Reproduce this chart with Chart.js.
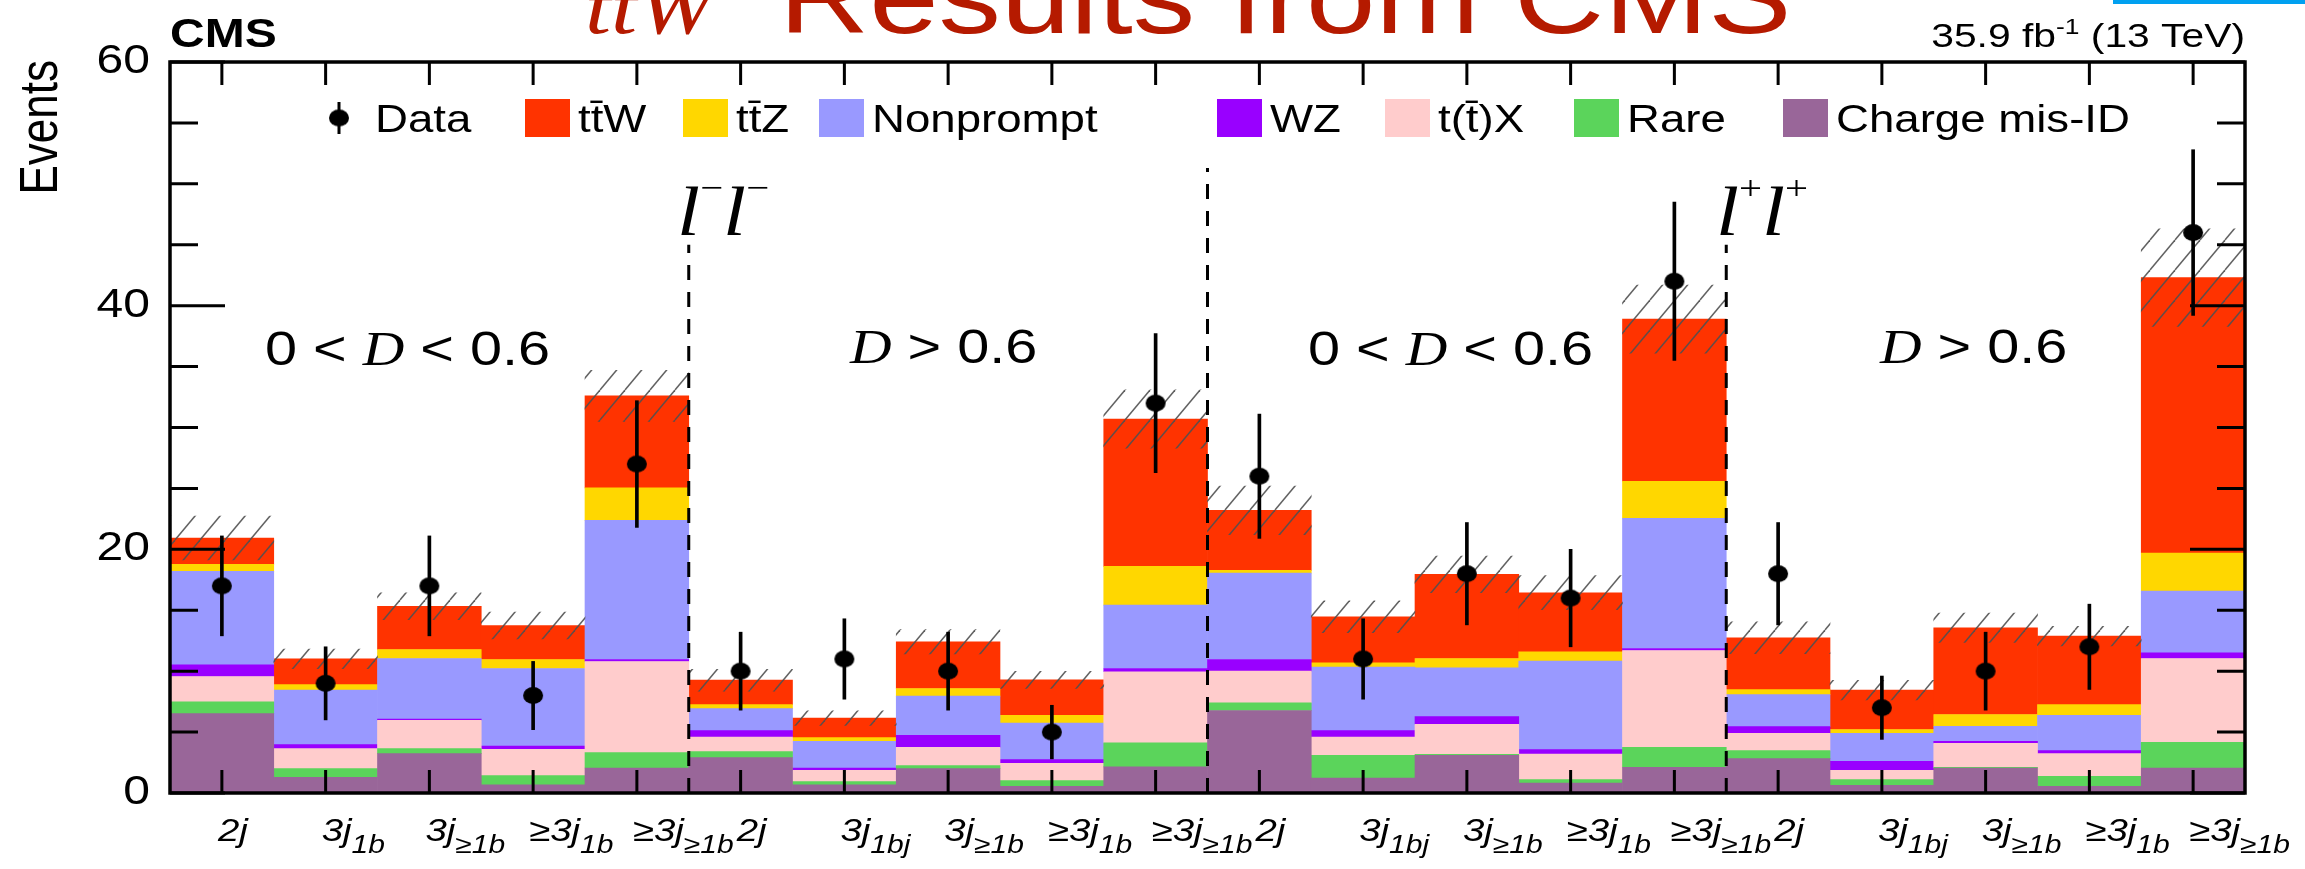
<!DOCTYPE html>
<html>
<head>
<meta charset="utf-8">
<script src="https://cdn.jsdelivr.net/npm/chart.js@4.4.1/dist/chart.umd.min.js"></script>
<style>
  html, body { margin: 0; padding: 0; background: #fff; overflow: hidden; }
  #wrap { position: relative; width: 2305px; height: 869px; }
</style>
</head>
<body>
<div id="wrap"><canvas id="c"></canvas></div>
<script>
// ---- bin labels (main part + subscript) ----
const tickMain = ['2j','3j','3j','≥3j','≥3j', '2j','3j','3j','≥3j','≥3j',
                  '2j','3j','3j','≥3j','≥3j', '2j','3j','3j','≥3j','≥3j'];
const tickSub  = ['','1b','≥1b','1b','≥1b', '','1bj','≥1b','1b','≥1b',
                  '','1bj','≥1b','1b','≥1b', '','1bj','≥1b','1b','≥1b'];
const categories = tickMain.map((m, i) => m + tickSub[i]);

// ---- expected yields per process (stacked bottom to top) ----
const chargeMisID = [6.52,1.29,3.23,0.68,2.05, 2.90,0.68,2.00,0.55,2.14, 6.77,1.23,3.10,0.82,2.11, 2.82,0.63,2.05,0.55,2.05];
const rare        = [0.96,0.71,0.41,0.74,1.27, 0.50,0.25,0.25,0.46,1.97, 0.63,1.87,0.08,0.28,1.64, 0.66,0.47,0.05,0.82,2.11];
const ttX         = [2.08,1.64,2.33,2.17,7.47, 1.18,0.93,1.50,1.43,5.84, 2.60,1.48,2.46,2.10,7.95, 1.42,0.76,1.98,1.86,6.88];
const wz          = [0.96,0.33,0.10,0.27,0.17, 0.54,0.19,0.99,0.30,0.27, 0.96,0.54,0.63,0.36,0.16, 0.55,0.74,0.17,0.25,0.47];
const nonprompt   = [7.67,4.47,4.97,6.36,11.42, 1.81,2.20,3.21,2.99,5.20, 7.09,5.21,4.00,7.26,10.69, 2.63,2.30,1.23,2.90,5.07];
const ttZ         = [0.58,0.46,0.74,0.74,2.66, 0.33,0.30,0.63,0.65,3.18, 0.22,0.35,0.77,0.77,3.04, 0.41,0.31,0.96,0.88,3.12];
const ttW         = [2.16,2.11,3.54,2.79,7.56, 2.00,1.59,3.83,2.91,12.10, 4.93,3.79,6.91,4.85,13.31, 4.25,3.23,7.12,5.62,22.60];

// total background uncertainty (hatched band, symmetric)
const bkgUnc = [1.8,0.8,1.1,1.1,2.1, 0.9,0.6,1.0,0.7,2.4, 2.0,1.3,1.5,1.4,2.8, 1.3,0.8,1.2,0.8,4.0];

// ---- observed data ----
const dataCounts = [17,9,17,8,27, 10,11,10,5,32, 26,11,18,16,42, 18,7,10,12,46];
const dataErr    = [4.1,3.0,4.1,2.8,5.2, 3.2,3.3,3.2,2.2,5.7, 5.1,3.3,4.2,4.0,6.5, 4.2,2.6,3.2,3.5,6.8];

// ---- y axis ticks, region dividers ----
const yTickLabels = [0, 20, 40, 60];
const dividerAfter = [5, 10, 15];
const dividerTop   = [45, 51.3, 45];

const SX = 1.2; // horizontal text stretch of the figure
const SANS = "'Liberation Sans', Arial, Helvetica, sans-serif";
const SERIF = "'Liberation Serif', 'Times New Roman', serif";

const colors = {
  ttW: '#ff3300', ttZ: '#ffd700', nonprompt: '#9999ff', wz: '#9900ff',
  ttX: '#ffcccc', rare: '#5bd45b', misid: '#996699'
};

// hatch pattern for the uncertainty band
function makeHatch() {
  const w = 25, h = 30;
  const c = document.createElement('canvas');
  c.width = w; c.height = h;
  const g = c.getContext('2d');
  g.strokeStyle = 'rgba(80,80,80,0.9)';
  g.lineWidth = 1.5;
  for (const off of [-w, 0, w]) {
    g.beginPath();
    g.moveTo(off, h);
    g.lineTo(off + w, 0);
    g.stroke();
  }
  return g.createPattern(c, 'repeat');
}

// data marker (slightly wide ellipse)
function makeDot(rx, ry) {
  const c = document.createElement('canvas');
  c.width = Math.ceil(rx * 2 + 2); c.height = Math.ceil(ry * 2 + 2);
  const g = c.getContext('2d');
  g.fillStyle = '#000';
  g.beginPath();
  g.ellipse(c.width / 2, c.height / 2, rx, ry, 0, 0, Math.PI * 2);
  g.fill();
  return c;
}
const dot = makeDot(10, 8.5);

const totals = categories.map((_, i) =>
  chargeMisID[i] + rare[i] + ttX[i] + wz[i] + nonprompt[i] + ttZ[i] + ttW[i]);

// draws a sequence of text runs horizontally stretched by SX
function drawRuns(ctx, x, y, parts, align) {
  let w = 0;
  parts.forEach(p => { ctx.font = p.font; p.w = ctx.measureText(p.t).width * SX; w += p.w; });
  let cx = align === 'right' ? x - w : (align === 'center' ? x - w / 2 : x);
  parts.forEach(p => {
    ctx.save();
    ctx.font = p.font;
    ctx.fillStyle = p.color || '#000';
    ctx.textAlign = 'left';
    ctx.textBaseline = p.baseline || 'alphabetic';
    ctx.translate(cx, y + (p.dy || 0));
    ctx.scale(SX, 1);
    ctx.fillText(p.t, 0, 0);
    ctx.restore();
    cx += p.w;
  });
}

const decorations = {
  id: 'decorations',
  afterDatasetsDraw(chart) {
    const ctx = chart.ctx;
    const xs = chart.scales.x, ys = chart.scales.y;
    const a = chart.chartArea;
    const half = (xs.getPixelForValue(1) - xs.getPixelForValue(0)) / 2;
    ctx.save();
    // region dividers
    ctx.strokeStyle = '#000';
    ctx.lineWidth = 3;
    ctx.setLineDash([15, 12]);
    dividerAfter.forEach((b, k) => {
      const x = xs.getPixelForValue(b - 1) + half;
      ctx.beginPath();
      ctx.moveTo(x, ys.getPixelForValue(0));
      ctx.lineTo(x, ys.getPixelForValue(dividerTop[k]));
      ctx.stroke();
    });
    ctx.setLineDash([]);
    // tick marks
    ctx.lineWidth = 3;
    for (let i = 0; i < categories.length; i++) {
      const x = xs.getPixelForValue(i);
      ctx.beginPath();
      ctx.moveTo(x, a.bottom); ctx.lineTo(x, a.bottom - 23);
      ctx.moveTo(x, a.top); ctx.lineTo(x, a.top + 23);
      ctx.stroke();
    }
    for (let v = 0; v <= 60; v += 5) {
      const y = ys.getPixelForValue(v);
      const len = v % 20 === 0 ? 55 : 28;
      ctx.beginPath();
      ctx.moveTo(a.left, y); ctx.lineTo(a.left + len, y);
      ctx.moveTo(a.right, y); ctx.lineTo(a.right - len, y);
      ctx.stroke();
    }
    // frame
    ctx.lineWidth = 3.5;
    ctx.strokeRect(a.left, a.top, a.right - a.left, a.bottom - a.top);
    ctx.restore();
  },
  afterDraw(chart) {
    const ctx = chart.ctx;
    const xs = chart.scales.x, ys = chart.scales.y;
    const a = chart.chartArea;
    ctx.save();

    // heading
    drawRuns(ctx, 585, 33, [{ t: 'ttW', font: 'italic 78px ' + SERIF, color: '#b51a00' }]);
    drawRuns(ctx, 779, 33, [{ t: 'Results from CMS', font: '104px ' + SANS, color: '#b51a00' }]);
    ctx.fillStyle = '#00a0f0';
    ctx.fillRect(2113, 0, 192, 4);

    // CMS label and luminosity
    drawRuns(ctx, a.left, 47, [{ t: 'CMS', font: 'bold 40px ' + SANS }]);
    drawRuns(ctx, a.right, 47, [
      { t: '35.9 fb', font: '34px ' + SANS },
      { t: '-1', font: '22px ' + SANS, dy: -13 },
      { t: ' (13 TeV)', font: '34px ' + SANS }
    ], 'right');

    // y axis labels and title
    yTickLabels.forEach(v => {
      drawRuns(ctx, 150, ys.getPixelForValue(v), [{ t: String(v), font: '40px ' + SANS, baseline: 'middle' }], 'right');
    });
    ctx.save();
    ctx.translate(57, 60);
    ctx.rotate(-Math.PI / 2);
    ctx.scale(1, SX);
    ctx.font = '44px ' + SANS;
    ctx.fillStyle = '#000';
    ctx.textAlign = 'right';
    ctx.textBaseline = 'alphabetic';
    ctx.fillText('Events', 0, 0);
    ctx.restore();

    // bin labels
    for (let i = 0; i < categories.length; i++) {
      const x = xs.getPixelForValue(i) - 4;
      const parts = [{ t: tickMain[i], font: 'italic 32px ' + SANS }];
      if (tickSub[i]) parts.push({ t: tickSub[i], font: 'italic 25px ' + SANS, dy: 12 });
      drawRuns(ctx, x, 841, parts);
    }

    // legend
    const ly = 118;
    ctx.drawImage(dot, 339 - dot.width / 2, ly - dot.height / 2);
    ctx.fillStyle = '#000';
    ctx.fillRect(337.5, 102, 3, 32);
    drawRuns(ctx, 375, 131.5, [{ t: 'Data', font: '38px ' + SANS }]);
    const legendX = [525, 683, 819, 1217, 1385, 1574, 1783];
    const legendLabels = ['tt\u0304W', 'tt\u0304Z', 'Nonprompt', 'WZ', 't(t\u0304)X', 'Rare', 'Charge mis-ID'];
    legendLabels.forEach((name, k) => {
      const ds = chart.data.datasets.find(d => d.label === name);
      ctx.fillStyle = ds.backgroundColor;
      ctx.fillRect(legendX[k], 99, 45, 38);
      drawRuns(ctx, legendX[k] + 53, 131.5, [{ t: name, font: '38px ' + SANS }]);
    });

    // region labels
    const lbl = 48;
    const lessThan = (x) => drawRuns(ctx, x, 365, [
      { t: '0 < ', font: lbl + 'px ' + SANS },
      { t: 'D', font: 'italic ' + lbl + 'px ' + SERIF },
      { t: ' < 0.6', font: lbl + 'px ' + SANS }
    ]);
    const greater = (x) => drawRuns(ctx, x, 363, [
      { t: 'D', font: 'italic ' + lbl + 'px ' + SERIF },
      { t: ' > 0.6', font: lbl + 'px ' + SANS }
    ]);
    lessThan(265); greater(850); lessThan(1308); greater(1880);
    const lep = (x, s) => drawRuns(ctx, x, 235, [
      { t: 'l', font: 'italic 69px ' + SERIF },
      { t: s, font: '34px ' + SERIF, dy: -36 },
      { t: 'l', font: 'italic 69px ' + SERIF },
      { t: s, font: '34px ' + SERIF, dy: -36 }
    ]);
    lep(677, '\u2212'); lep(1716, '+');
    ctx.restore();
  }
};

const hatch = makeHatch();
const stackDefaults = { stack: 'mc', yAxisID: 'y', barPercentage: 1, categoryPercentage: 1, borderWidth: 0 };

new Chart(document.getElementById('c'), {
  type: 'bar',
  data: {
    labels: categories,
    datasets: [
      { type: 'line', label: 'Data', data: dataCounts, yAxisID: 'y2', showLine: false,
        pointStyle: dot, pointRadius: 10, pointHoverRadius: 10, order: 0 },
      { label: 'Data error', data: dataCounts.map((d, i) => [d - dataErr[i], d + dataErr[i]]),
        yAxisID: 'y2', grouped: false, barThickness: 3, backgroundColor: '#000', borderWidth: 0, order: 1 },
      { ...stackDefaults, label: 'Charge mis-ID', data: chargeMisID, backgroundColor: colors.misid, order: 3 },
      { ...stackDefaults, label: 'Rare', data: rare, backgroundColor: colors.rare, order: 3 },
      { ...stackDefaults, label: 't(t\u0304)X', data: ttX, backgroundColor: colors.ttX, order: 3 },
      { ...stackDefaults, label: 'WZ', data: wz, backgroundColor: colors.wz, order: 3 },
      { ...stackDefaults, label: 'Nonprompt', data: nonprompt, backgroundColor: colors.nonprompt, order: 3 },
      { ...stackDefaults, label: 'tt\u0304Z', data: ttZ, backgroundColor: colors.ttZ, order: 3 },
      { ...stackDefaults, label: 'tt\u0304W', data: ttW, backgroundColor: colors.ttW, order: 3 },
      { label: 'Uncertainty', data: totals.map((t, i) => [t - bkgUnc[i], t + bkgUnc[i]]),
        yAxisID: 'y2', grouped: false, barPercentage: 1, categoryPercentage: 1,
        backgroundColor: hatch, borderWidth: 0, order: 2 }
    ]
  },
  options: {
    responsive: true,
    maintainAspectRatio: false,
    animation: false,
    events: [],
    layout: { padding: { left: 170, right: 60, top: 62, bottom: 76 } },
    plugins: { legend: { display: false }, tooltip: { enabled: false } },
    scales: {
      x: { display: false, stacked: true },
      y: { display: false, stacked: true, min: 0, max: 60 },
      y2: { display: false, stacked: false, min: 0, max: 60 }
    }
  },
  plugins: [decorations]
});
</script>
</body>
</html>
